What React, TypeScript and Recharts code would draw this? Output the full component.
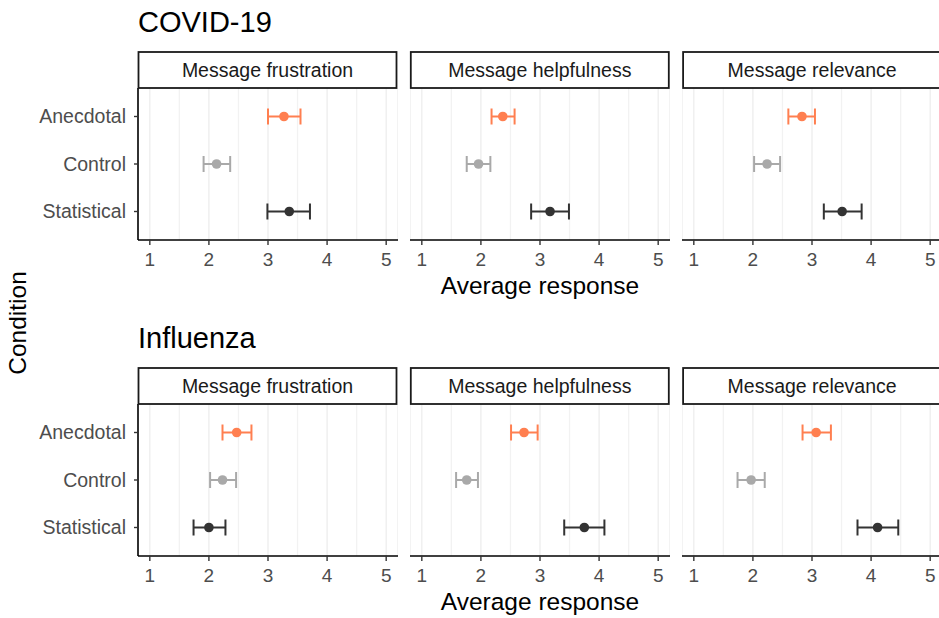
import React from "react";
import {
	ScatterChart,
	Scatter,
	XAxis,
	YAxis,
	CartesianGrid,
	ReferenceLine,
	ErrorBar,
} from "recharts";

const conditions = ["Anecdotal", "Control", "Statistical"];
const conditionColors = ["#FF7F50", "#A9A9A9", "#333333"];
const measures = ["Message frustration", "Message helpfulness", "Message relevance"];
const xTicks = [1, 2, 3, 4, 5];
const minorBreaks = [1.5, 2.5, 3.5, 4.5];

// one row per measure, values in condition order
const covidMean = [
	[3.27, 2.13, 3.36],
	[2.37, 1.96, 3.17],
	[2.83, 2.24, 3.51],
];
const covidLow = [
	[3.0, 1.91, 2.99],
	[2.18, 1.76, 2.85],
	[2.6, 2.02, 3.2],
];
const covidHigh = [
	[3.55, 2.36, 3.71],
	[2.57, 2.16, 3.49],
	[3.05, 2.46, 3.84],
];

const fluMean = [
	[2.47, 2.23, 2.0],
	[2.73, 1.76, 3.75],
	[3.07, 1.97, 4.11],
];
const fluLow = [
	[2.23, 2.02, 1.74],
	[2.51, 1.58, 3.41],
	[2.84, 1.74, 3.77],
];
const fluHigh = [
	[2.72, 2.46, 2.28],
	[2.96, 1.95, 4.09],
	[3.32, 2.2, 4.46],
];

const FONT = "'Liberation Sans', Arial, Helvetica, sans-serif";
const PLOT_W = 260;
const PLOT_H = 152;
const AXIS_H = 40;
const Y_AXIS_W = 110;
const PANEL_LEFT = [137.5, 409.8, 682.1];
const BLOCK_TOP = [0, 316];

function Facet({
	mean,
	low,
	high,
	showY,
}: {
	mean: number[];
	low: number[];
	high: number[];
	showY: boolean;
}) {
	const yw = showY ? Y_AXIS_W : 0;
	return (
		<ScatterChart
			width={PLOT_W + yw}
			height={PLOT_H + AXIS_H}
			margin={{ top: 0, right: 0, bottom: 0, left: 0 }}
		>
			<CartesianGrid horizontal={false} stroke="#EDEDED" strokeWidth={1.3} />
			{minorBreaks.map((b) => (
				<ReferenceLine key={b} x={b} stroke="#F2F2F2" strokeWidth={1.3} />
			))}
			<XAxis
				type="number"
				dataKey="x"
				domain={[0.8, 5.2]}
				ticks={xTicks}
				allowDataOverflow
				height={AXIS_H}
				tickSize={5}
				tickMargin={8}
				axisLine={{ stroke: "#000", strokeWidth: 1.6 }}
				tickLine={{ stroke: "#333", strokeWidth: 1.4 }}
				tick={{ fill: "#4D4D4D", fontSize: 19, fontFamily: FONT }}
			/>
			<YAxis
				type="number"
				dataKey="y"
				domain={[0.4, 3.6]}
				ticks={[1, 2, 3]}
				reversed
				allowDataOverflow
				hide={!showY}
				width={yw}
				tickSize={4}
				tickMargin={8}
				tickFormatter={(v: number) => conditions[v - 1]}
				axisLine={{ stroke: "#000", strokeWidth: 1.6 }}
				tickLine={{ stroke: "#333", strokeWidth: 1.4 }}
				tick={{ fill: "#4D4D4D", fontSize: 19.5, fontFamily: FONT }}
			/>
			{conditions.map((c, i) => (
				<Scatter
					key={c}
					name={c}
					data={[{ x: mean[i], y: i + 1, err: [mean[i] - low[i], high[i] - mean[i]] }]}
					fill={conditionColors[i]}
					isAnimationActive={false}
					shape={(p: any) => <circle cx={p.cx} cy={p.cy} r={4.8} fill={conditionColors[i]} />}
				>
					<ErrorBar
						dataKey="err"
						direction="x"
						width={8}
						strokeWidth={2}
						stroke={conditionColors[i]}
						isAnimationActive={false}
					/>
				</Scatter>
			))}
		</ScatterChart>
	);
}

export default function App() {
	const blocks = [
		{ title: "COVID-19", mean: covidMean, low: covidLow, high: covidHigh },
		{ title: "Influenza", mean: fluMean, low: fluLow, high: fluHigh },
	];
	return (
		<div
			style={{
				position: "absolute",
				left: 0,
				top: 0,
				width: 939,
				height: 618,
				background: "#fff",
				overflow: "hidden",
				fontFamily: FONT,
			}}
		>
			{blocks.map((b, bi) =>
				measures.map((m, mi) => (
					<div
						key={b.title + m}
						style={{
							position: "absolute",
							left: PANEL_LEFT[mi] - (mi === 0 ? Y_AXIS_W : 0),
							top: 88 + BLOCK_TOP[bi],
						}}
					>
						<Facet mean={b.mean[mi]} low={b.low[mi]} high={b.high[mi]} showY={mi === 0} />
					</div>
				))
			)}
			<svg
				width={939}
				height={618}
				style={{ position: "absolute", left: 0, top: 0, pointerEvents: "none" }}
			>
				{blocks.map((b, bi) => {
					const t = BLOCK_TOP[bi];
					return (
						<g key={b.title}>
							<text x={138} y={32 + t} fontSize={29} fontFamily={FONT} fill="#000">
								{b.title}
							</text>
							{measures.map((m, mi) => (
								<g key={m}>
									<rect
										x={PANEL_LEFT[mi] + 1}
										y={52 + t}
										width={PLOT_W - 2}
										height={36}
										fill="#fff"
										stroke="#1A1A1A"
										strokeWidth={1.8}
									/>
									<text
										x={PANEL_LEFT[mi] + PLOT_W / 2}
										y={77 + t}
										textAnchor="middle"
										fontSize={19.5}
										fontFamily={FONT}
										fill="#1A1A1A"
									>
										{m}
									</text>
								</g>
							))}
							<text
								x={540}
								y={294 + t}
								textAnchor="middle"
								fontSize={24.5}
								fontFamily={FONT}
								fill="#000"
							>
								Average response
							</text>
						</g>
					);
				})}
				<text
					x={0}
					y={0}
					transform="translate(26 323) rotate(-90)"
					textAnchor="middle"
					fontSize={24.5}
					fontFamily={FONT}
					fill="#000"
				>
					Condition
				</text>
			</svg>
		</div>
	);
}
